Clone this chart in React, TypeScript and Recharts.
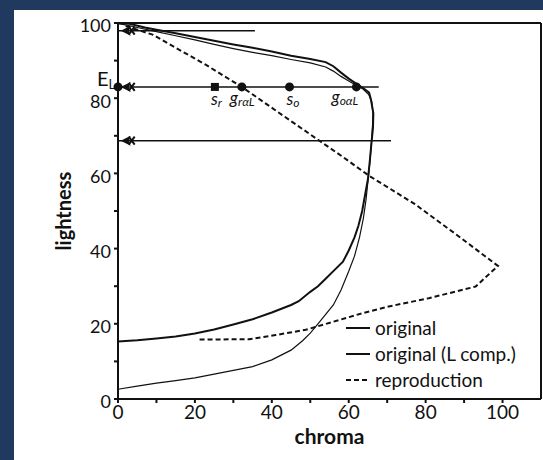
import React from "react";
import {
  ComposedChart,
  Line,
  Scatter,
  XAxis,
  YAxis,
  ReferenceLine,
} from "recharts";

const FONT = "Lato, 'DejaVu Sans', sans-serif";
const INK = "#111";

// original (thin line), traced bottom -> top
const originalX = [0, 5, 10, 15, 20, 25, 30, 35, 40, 45, 48, 50, 52, 54, 56, 58, 60, 61.5, 62.8, 63.8, 64.5, 65, 65.5, 65.9, 66.2, 66.3, 66, 65.2, 63.5, 62, 60, 58, 56, 54, 50, 45, 40, 35, 30, 25, 20, 15, 10, 5, 2, 0];
const originalY = [2.6, 3.4, 4.2, 4.9, 5.6, 6.6, 7.6, 8.6, 10.4, 13, 15.5, 17.5, 20, 22.5, 25, 29, 34, 38, 43, 48, 53, 58, 63, 68, 73, 76, 79, 81, 82.6, 83.4, 84.6, 85.8, 87.2, 88.3, 89.4, 90.3, 91.3, 92.2, 93.2, 94.3, 95.5, 96.6, 97.7, 98.8, 99.5, 99.8];

// original (L comp.), thicker line
const lcompX = [0, 5, 10, 15, 20, 25, 30, 35, 40, 45, 47, 50, 52, 54, 56, 58.5, 60, 61.5, 62.5, 63.5, 64.2, 65, 65.5, 65.9, 66.3, 66.4, 65.8, 65.3, 64, 62, 60, 58, 56, 54, 50, 45, 40, 35, 30, 25, 20, 15, 10, 7, 3, 0];
const lcompY = [15.3, 15.6, 16.1, 16.6, 17.4, 18.5, 19.8, 21.2, 23, 25, 26, 28.5, 30, 32, 34, 36.5, 39.5, 43, 46, 50, 54, 58.5, 63.5, 68, 72, 76, 79.5, 81.5, 82.5, 83.8, 85.2, 86.8, 88.5, 89.6, 90.4, 91.3, 92.4, 93.4, 94.3, 95.3, 96.3, 97.3, 98.2, 98.8, 99.8, 100];

// reproduction (dashed)
const reproX = [2, 9, 22.8, 32.2, 45, 58.3, 65.4, 77.1, 87.9, 98.8, 93, 80.8, 70.4, 63.5, 48.8, 41, 34.1, 20.5];
const reproY = [99.2, 96.9, 88.9, 83, 73.9, 64.5, 59.3, 51.9, 43.8, 35.4, 29.9, 26.8, 24.6, 22.8, 18.4, 17, 15.9, 15.8];

// horizontal guide lines with arrows at the lightness axis
const guideY = [97.95, 83, 68.7];
const guideEnd = [35.6, 67.8, 71.0];
const arrowX = [2, 2, 2];

// labelled points on the E_L line
const markerX = [0, 25.2, 32.2, 44.6, 62];
const markerY = [83, 83, 83, 83, 83];
const markerKind = ["circle", "square", "circle", "circle", "circle"];
const markerMain = ["E", "s", "g", "s", "g"];
const markerSub = ["L", "r", "rαL", "o", "oαL"];
const labelDx = [-21, -4, -12, -3, -25];
const labelDy = [-1, 18, 17, 18, 16];

const xTicks = [0, 10, 20, 30, 40, 50, 60, 70, 80, 90, 100];
const yTicks = [0, 10, 20, 30, 40, 50, 60, 70, 80, 90, 100];

const legendNames = ["original", "original (L comp.)", "reproduction"];
const legendDash = ["", "", "5 3"];

const pts = (xs: number[], ys: number[]) => xs.map((x, i) => ({ x, y: ys[i] }));

const markers = markerX.map((x, i) => ({
  x,
  y: markerY[i],
  kind: markerKind[i],
  main: markerMain[i],
  sub: markerSub[i],
  dx: labelDx[i],
  dy: labelDy[i],
}));
const arrows = arrowX.map((x, i) => ({ x, y: guideY[i] }));

function MarkerShape(props: any) {
  const { cx, cy, payload } = props;
  const big = payload.main === "E";
  return (
    <g>
      {payload.kind === "square" ? (
        <rect x={cx - 4} y={cy - 4} width={8} height={8} fill={INK} />
      ) : (
        <circle cx={cx} cy={cy} r={4.5} fill={INK} />
      )}
      <text
        x={cx + payload.dx}
        y={cy + payload.dy}
        fontFamily={FONT}
        fontSize={big ? 20 : 17}
        fill={INK}
        fontStyle={big ? "normal" : "italic"}
      >
        {payload.main}
        <tspan fontSize={big ? 13 : 12} dy={big ? 3 : 2}>
          {payload.sub}
        </tspan>
      </text>
    </g>
  );
}

function ArrowShape(props: any) {
  const { cx, cy } = props;
  return (
    <g fill={INK}>
      <path d={`M${cx - 5},${cy} L${cx + 5},${cy - 5} L${cx + 3},${cy} L${cx + 5},${cy + 5} Z`} />
      <path d={`M${cx + 3},${cy - 4} L${cx + 9},${cy + 4} M${cx + 3},${cy + 4} L${cx + 9},${cy - 4}`} stroke={INK} strokeWidth={2} />
    </g>
  );
}

const LegendBox = () => (
  <div
    style={{
      position: "absolute",
      left: 346,
      top: 315,
      fontFamily: FONT,
      fontSize: 19,
      color: INK,
      lineHeight: "26px",
    }}
  >
    {legendNames.map((n, i) => (
      <div key={n} style={{ display: "flex", alignItems: "center", whiteSpace: "nowrap" }}>
        <svg width={26} height={10}>
          <line x1={0} y1={5} x2={24} y2={5} stroke={INK} strokeWidth={2} strokeDasharray={legendDash[i]} />
        </svg>
        <span style={{ marginLeft: 3 }}>{n}</span>
      </div>
    ))}
  </div>
);

const tickFmt = (v: number) => (v % 20 === 0 ? String(v) : "");

export default function App() {
  return (
    <div style={{ position: "fixed", left: 0, top: 0, width: 543, height: 460, background: "#1f3a5e" }}>
      <div style={{ position: "absolute", left: 14, top: 10, width: 529, height: 450, background: "#fff" }} />
      <div style={{ position: "absolute", left: 0, top: 0 }}>
        <ComposedChart width={543} height={460} margin={{ top: 23, right: 2, bottom: 13, left: 48 }}>
          <XAxis
            type="number"
            dataKey="x"
            domain={[0, 110]}
            ticks={xTicks}
            tickFormatter={tickFmt}
            height={48}
            stroke={INK}
            strokeWidth={2}
            tickSize={4}
            tickMargin={3}
            tick={{ fill: INK, fontSize: 19, fontFamily: FONT }}
            label={{ value: "chroma", position: "insideBottom", offset: 3, fill: INK, fontSize: 21, fontWeight: 700, fontFamily: FONT }}
          />
          <YAxis
            type="number"
            dataKey="y"
            domain={[0, 100]}
            ticks={yTicks}
            tickFormatter={tickFmt}
            width={70}
            stroke={INK}
            strokeWidth={2}
            tickSize={4}
            tickMargin={3}
            tick={{ fill: INK, fontSize: 18, fontFamily: FONT, dy: 3 }}
            label={{
              value: "lightness",
              angle: -90,
              position: "insideLeft",
              offset: 16,
              fill: INK,
              fontSize: 20,
              fontWeight: 700,
              fontFamily: FONT,
              style: { textAnchor: "middle" },
            }}
          />
          <ReferenceLine y={100} stroke={INK} strokeWidth={2} />
          <ReferenceLine x={110} stroke={INK} strokeWidth={2} />
          {guideY.map((gy, i) => (
            <Line
              key={"g" + i}
              data={[{ x: 0, y: gy }, { x: guideEnd[i], y: gy }]}
              dataKey="y"
              stroke={INK}
              strokeWidth={1.5}
              dot={false}
              activeDot={false}
              legendType="none"
              isAnimationActive={false}
            />
          ))}
          <Line data={pts(originalX, originalY)} dataKey="y" name="original" type="linear" stroke={INK} strokeWidth={1.2} dot={false} activeDot={false} isAnimationActive={false} />
          <Line data={pts(lcompX, lcompY)} dataKey="y" name="original (L comp.)" type="linear" stroke={INK} strokeWidth={2} dot={false} activeDot={false} isAnimationActive={false} />
          <Line data={pts(reproX, reproY)} dataKey="y" name="reproduction" type="linear" stroke={INK} strokeWidth={2} strokeDasharray="5 3" dot={false} activeDot={false} isAnimationActive={false} />
          <Scatter data={arrows} dataKey="y" shape={ArrowShape} legendType="none" isAnimationActive={false} />
          <Scatter data={markers} dataKey="y" shape={MarkerShape} legendType="none" isAnimationActive={false} />
        </ComposedChart>
      </div>
      <LegendBox />
    </div>
  );
}
